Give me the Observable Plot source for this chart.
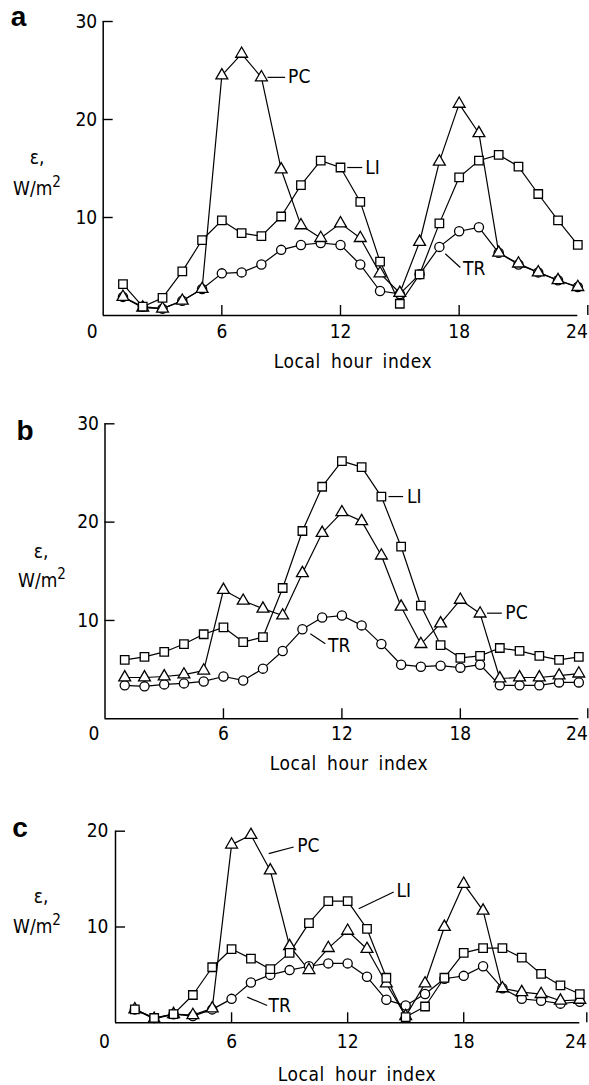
<!DOCTYPE html>
<html><head><meta charset="utf-8">
<script src="https://cdn.jsdelivr.net/npm/d3@7"></script>
<script src="https://cdn.jsdelivr.net/npm/@observablehq/plot@0.6"></script>
<style>
body{margin:0;background:#fff;}
#root{position:relative;width:589px;height:1085px;overflow:hidden;font-family:"Liberation Sans Narrow","DejaVu Sans Condensed","Liberation Sans",sans-serif;color:#000}
.panel{position:absolute;left:0}
.lbl{position:absolute;white-space:nowrap;transform:translate(-50%,-50%);line-height:1}
.letter{font-family:"Liberation Sans",Arial,sans-serif;font-weight:bold;font-size:28px}
.ax{font-size:19px;letter-spacing:0.6px;word-spacing:4px}
.yl{font-size:19px}
sup{font-size:15px;vertical-align:8px;line-height:0}
</style></head><body><div id="root"></div>
<script>
// Local hour index (categories)
const hours = [1,2,3,4,5,6,7,8,9,10,11,12,13,14,15,16,17,18,19,20,21,22,23,24];
const xTickValues = [6,12,18];
const xLastTick = [24];

// Panel a
const aLI = [3.2,0.9,1.8,4.5,7.7,9.7,8.4,8.1,10.1,13.3,15.8,15.1,11.6,5.5,1.2,4.2,9.4,14.1,15.8,16.4,15.2,12.4,9.7,7.2];
const aPC = [1.9,0.8,0.7,1.5,2.7,24.5,26.7,24.3,14.9,9.2,7.9,9.4,7.9,4.3,2.3,7.5,15.7,21.6,18.6,6.4,5.3,4.4,3.6,2.9];
const aTR = [1.9,0.9,0.7,1.5,2.7,4.3,4.4,5.2,6.7,7.2,7.4,7.2,5.2,2.5,2.2,4.2,7.0,8.6,9.0,6.4,5.2,4.4,3.6,2.9];
const aYTicks = [10,20,30];

// Panel b
const bLI = [6.0,6.3,6.8,7.6,8.6,9.3,7.8,8.3,13.3,19.1,23.6,26.2,25.6,22.6,17.5,11.5,7.5,6.2,6.4,7.2,6.9,6.4,6.0,6.3];
const bPC = [4.2,4.2,4.3,4.5,4.9,13.1,12.0,11.2,10.5,14.8,18.9,21.0,20.1,16.6,11.4,7.6,9.7,12.1,10.7,4.1,4.2,4.2,4.4,4.6];
const bTR = [3.4,3.3,3.5,3.6,3.8,4.3,3.9,5.1,6.9,9.1,10.3,10.5,9.5,7.6,5.5,5.3,5.4,5.2,5.5,3.4,3.4,3.4,3.7,3.7];
const bYTicks = [10,20,30];

// Panel c
const cLI = [1.4,0.5,0.9,2.9,5.8,7.7,6.7,5.6,7.3,10.4,12.7,12.7,9.8,4.7,0.6,1.7,4.7,7.3,7.8,7.8,6.8,5.1,3.9,3.0];
const cPC = [1.4,0.4,0.9,0.8,1.5,18.6,19.6,15.9,8.0,5.5,7.8,9.6,7.7,4.1,0.7,4.1,10.0,14.5,11.7,3.6,3.2,3.0,2.3,2.4];
const cTR = [1.4,0.5,0.9,0.7,1.4,2.5,4.2,5.0,5.5,5.9,6.2,6.2,4.8,2.4,1.8,3.0,4.6,4.9,5.9,3.6,2.5,2.3,2.0,2.2];
const cYTicks = [10,20];

// Series labels (text, leader start, leader end, text position) in data units
const aNotes = [
  {text:"PC", x1:8.31, y1:24.3, x2:9.2, y2:24.3, tx:9.35, ty:24.3},
  {text:"LI", x1:12.34, y1:15.1, x2:13.1, y2:15.1, tx:13.25, ty:15.1},
  {text:"TR", x1:17.3, y1:6.3, x2:18.06, y2:4.9, tx:18.2, ty:4.8}
];
const bNotes = [
  {text:"LI", x1:14.36, y1:22.6, x2:15.1, y2:22.6, tx:15.3, ty:22.6},
  {text:"PC", x1:19.35, y1:10.74, x2:20.1, y2:10.74, tx:20.28, ty:10.74},
  {text:"TR", x1:10.4, y1:8.65, x2:11.16, y2:7.63, tx:11.3, ty:7.46}
];
const cNotes = [
  {text:"PC", x1:7.92, y1:17.66, x2:9.21, y2:18.35, tx:9.39, ty:18.45},
  {text:"TR", x1:6.81, y1:2.68, x2:7.84, y2:1.81, tx:7.91, ty:1.8},
  {text:"LI", x1:12.57, y1:11.91, x2:14.38, y2:13.65, tx:14.52, ty:13.75}
];

const FONT = '"Liberation Sans Narrow","DejaVu Sans Condensed","Liberation Sans",sans-serif';

function rowsOf(arr) { return arr.map((v,i)=>({hour: hours[i], value: v})); }

function panel(cfg) {
  const li = rowsOf(cfg.LI), pc = rowsOf(cfg.PC), tr = rowsOf(cfg.TR);
  const lineOpt = {x:"hour", y:"value", stroke:"#000", strokeWidth:1.2};
  const dotOpt = {x:"hour", y:"value", fill:"#fff", stroke:"#000", strokeWidth:1.3};
  return Plot.plot({
    width: 589, height: cfg.height,
    marginLeft: cfg.ml, marginRight: cfg.mr, marginTop: cfg.mt, marginBottom: cfg.mb,
    x: {domain:[0,24]},
    y: {domain:[0,cfg.ymax]},
    style: {fontFamily: FONT, fontSize: "19px", color:"#000", background:"transparent", overflow:"visible"},
    marks: [
      Plot.ruleX([0], {stroke:"#000", strokeWidth:1.5}),
      Plot.ruleY([0], {stroke:"#000", strokeWidth:1.5}),
      Plot.axisX(xTickValues, {tickSize:-10, tickPadding:cfg.xpad, strokeWidth:1.4, label:null, fontSize:19}),
      Plot.axisX(xLastTick, {tickSize:-10, tickPadding:cfg.xpad, strokeWidth:1.4, label:null, fontSize:19, textAnchor:"end", dx:cfg.lastDx}),
      Plot.axisX([0], {tickSize:0, tickPadding:cfg.xpad - 10, dx:-11, label:null, fontSize:19}),
      Plot.axisY(cfg.yTicks, {tickSize:-10, tickPadding:cfg.ypad, strokeWidth:1.4, label:null, fontSize:19}),
      Plot.line(li, lineOpt),
      Plot.line(pc, lineOpt),
      Plot.line(tr, lineOpt),
      Plot.link(cfg.notes, {x1:"x1", y1:"y1", x2:"x2", y2:"y2", stroke:"#000", strokeWidth:1.2}),
      Plot.dot(tr, {...dotOpt, symbol:"circle", r:4.6}),
      Plot.dot(pc, {...dotOpt, symbol:"triangle", r:4.4}),
      Plot.dot(li, {...dotOpt, symbol:"square", r:4.8}),
      Plot.text(cfg.notes, {x:"tx", y:"ty", text:"text", textAnchor:"start", fontSize:19, fill:"#000"})
    ]
  });
}

const root = document.getElementById("root");
function place(el, top) { el.classList.add("panel"); el.style.top = top + "px"; root.appendChild(el); }
function label(html, cls, x, y) {
  const d = document.createElement("div");
  d.className = "lbl " + cls; d.innerHTML = html;
  d.style.left = x + "px"; d.style.top = y + "px";
  root.appendChild(d);
}

place(panel({LI:aLI, PC:aPC, TR:aTR, yTicks:aYTicks, ymax:30, notes:aNotes,
  height:380, ml:102.7, mr:11.7, mt:21, mb:65, xpad:19, ypad:16, lastDx:10}), 0);
place(panel({LI:bLI, PC:bPC, TR:bTR, yTicks:bYTicks, ymax:30, notes:bNotes,
  height:410, ml:104.5, mr:10.7, mt:43.3, mb:71.7, xpad:18, ypad:16, lastDx:9}), 380);
place(panel({LI:cLI, PC:cPC, TR:cTR, yTicks:cYTicks, ymax:20, notes:cNotes,
  height:295, ml:115, mr:9.7, mt:40.7, mb:62.7, xpad:22, ypad:17, lastDx:7}), 790);

label("a", "letter", 18.5, 17);
label("b", "letter", 25, 431);
label("c", "letter", 20, 828);

label("Local hour index", "ax", 353, 361);
label("Local hour index", "ax", 349, 763);
label("Local hour index", "ax", 357, 1074);

label("ε,", "yl", 37, 157);
label("W/m<sup>2</sup>", "yl", 37, 188);
label("ε,", "yl", 41, 551);
label("W/m<sup>2</sup>", "yl", 42, 580);
label("ε,", "yl", 41, 896);
label("W/m<sup>2</sup>", "yl", 37, 926);
</script>
</body></html>
